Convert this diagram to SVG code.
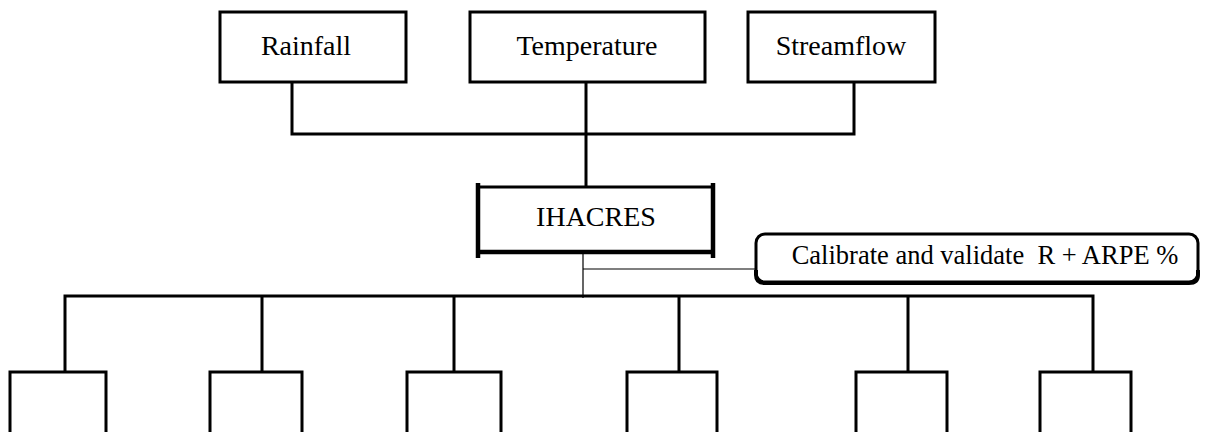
<svg xmlns="http://www.w3.org/2000/svg" width="1215" height="432" viewBox="0 0 1215 432">
<style>
.box{fill:#fff;stroke:#000;stroke-width:3}
.ln{fill:none;stroke:#000;stroke-width:3}
.thin{fill:none;stroke:#000;stroke-width:1.2}
.t{font-family:"Liberation Serif","Times New Roman",serif;font-size:28px;fill:#000;text-anchor:middle}
.s{font-size:26.5px;white-space:pre}
</style>
<rect width="1215" height="432" fill="#fff"/>
<g id="connectors">
<path class="ln" d="M292 82V134H854V82"/>
<path class="ln" d="M586 82V187"/>
<path class="thin" d="M583 252V298M583 269H756"/>
<path class="ln" d="M65 372V296H1093V372M262 296V372M454 296V372M679 296V372M908 296V372"/>
</g>
<g id="rainfall"><rect class="box" x="220" y="12" width="186" height="70"/><text class="t" x="306" y="55">Rainfall</text></g>
<g id="temperature"><rect class="box" x="470" y="12" width="235" height="70"/><text class="t" x="587" y="55">Temperature</text></g>
<g id="streamflow"><rect class="box" x="748" y="12" width="187" height="70"/><text class="t" x="841" y="55">Streamflow</text></g>
<g id="ihacres">
<rect fill="#fff" x="478" y="187" width="235" height="65"/>
<path class="ln" d="M478 187H713"/>
<path fill="none" stroke="#000" stroke-width="4.5" d="M478 252H713"/>
<path fill="none" stroke="#000" stroke-width="4.5" d="M478 183V258M713 183V258"/>
<text class="t" x="596" y="226">IHACRES</text>
</g>
<g id="calibrate">
<rect class="box" x="756" y="234" width="442" height="48" rx="9" ry="9"/>
<path fill="none" stroke="#000" stroke-width="4" d="M756 270V275Q756 283 765 283H1189Q1198 283 1198 275V270"/>
<text class="t s" x="985" y="264" xml:space="preserve">Calibrate and validate  R + ARPE %</text>
</g>
<g id="out1"><path class="ln" d="M10 432V372H106V432"/></g>
<g id="out2"><path class="ln" d="M210 432V372H302V432"/></g>
<g id="out3"><path class="ln" d="M407 432V372H501V432"/></g>
<g id="out4"><path class="ln" d="M627 432V372H717V432"/></g>
<g id="out5"><path class="ln" d="M856 432V372H947V432"/></g>
<g id="out6"><path class="ln" d="M1040 432V372H1131V432"/></g>
</svg>
